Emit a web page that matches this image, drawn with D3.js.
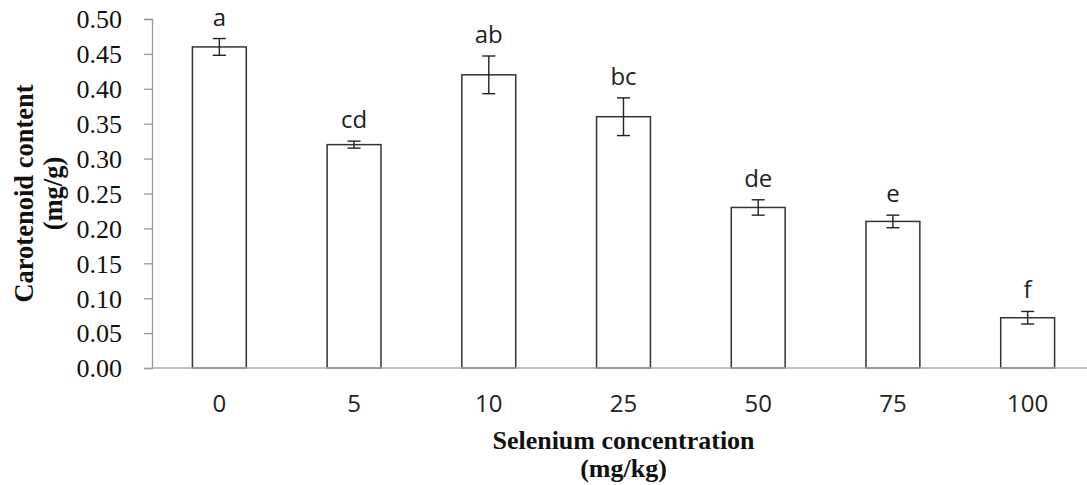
<!DOCTYPE html>
<html>
<head>
<meta charset="utf-8">
<script src="https://cdn.jsdelivr.net/npm/d3@7"></script>
<style>
  body { margin: 0; background: #fff; }
  svg { display: block; }
</style>
</head>
<body>
<svg id="graph"></svg>
<script>
// Données
const concentrations = ["0", "5", "10", "25", "50", "75", "100"];
const carotenoides = [0.46, 0.32, 0.42, 0.36, 0.23, 0.21, 0.072];
const erreurs = [0.012, 0.005, 0.027, 0.027, 0.011, 0.009, 0.009];
const lettres = ["a", "cd", "ab", "bc", "de", "e", "f"];
const yTicks = [0, 0.05, 0.10, 0.15, 0.20, 0.25, 0.30, 0.35, 0.40, 0.45, 0.50];

const largeur = 1087, hauteur = 485;
const marge = { haut: 19, droite: -8, bas: 117, gauche: 152 };

const svg = d3.select("#graph")
  .attr("width", largeur)
  .attr("height", hauteur);

const x = d3.scaleBand()
  .domain(concentrations)
  .range([marge.gauche, largeur - marge.droite])
  .paddingInner(0.6)
  .paddingOuter(0.3);

const y = d3.scaleLinear()
  .domain([0, 0.5])
  .range([hauteur - marge.bas, marge.haut]);

const serif = "'Liberation Serif', 'Times New Roman', serif";
const sans = "'Open Sans', sans-serif";

// Axe Y
const axeY = svg.append("g")
  .attr("transform", `translate(${marge.gauche},0)`)
  .call(d3.axisLeft(y).tickValues(yTicks).tickFormat(d3.format(".2f")).tickSize(8).tickPadding(22));
axeY.select(".domain").attr("stroke", "#999").attr("stroke-width", 1.3);
axeY.selectAll(".tick line").attr("stroke", "#999").attr("stroke-width", 1.3);
axeY.selectAll("text")
  .attr("font-family", serif)
  .attr("font-size", 26)
  .attr("fill", "#111")
  .attr("dy", "0.34em");

// Barres
svg.selectAll("rect.barre")
  .data(carotenoides)
  .enter().append("rect")
  .attr("class", "barre")
  .attr("x", (d, i) => x(concentrations[i]))
  .attr("y", d => y(d))
  .attr("width", x.bandwidth())
  .attr("height", d => y(0) - y(d))
  .attr("fill", "#fff")
  .attr("stroke", "#333")
  .attr("stroke-width", 1.5);

// Axe X (ligne)
svg.append("line")
  .attr("x1", marge.gauche)
  .attr("x2", largeur)
  .attr("y1", y(0))
  .attr("y2", y(0))
  .attr("stroke", "#aaa")
  .attr("stroke-width", 1.5);

// Barres d'erreur
const centre = i => x(concentrations[i]) + x.bandwidth() / 2;
carotenoides.forEach((v, i) => {
  const g = svg.append("g").attr("stroke", "#222").attr("stroke-width", 1.4);
  g.append("line").attr("x1", centre(i)).attr("x2", centre(i))
    .attr("y1", y(v + erreurs[i])).attr("y2", y(v - erreurs[i]));
  [v + erreurs[i], v - erreurs[i]].forEach(e => {
    g.append("line").attr("x1", centre(i) - 6.5).attr("x2", centre(i) + 6.5)
      .attr("y1", y(e)).attr("y2", y(e));
  });
});

// Lettres de signification
svg.selectAll("text.lettre")
  .data(lettres)
  .enter().append("text")
  .attr("class", "lettre")
  .attr("x", (d, i) => centre(i))
  .attr("y", (d, i) => y(carotenoides[i] + erreurs[i]) - 13)
  .attr("text-anchor", "middle")
  .attr("font-family", sans)
  .attr("font-size", 24)
  .attr("fill", "#222")
  .text(d => d);

// Étiquettes X
svg.selectAll("text.cat")
  .data(concentrations)
  .enter().append("text")
  .attr("class", "cat")
  .attr("x", d => x(d) + x.bandwidth() / 2)
  .attr("y", 412)
  .attr("text-anchor", "middle")
  .attr("font-family", sans)
  .attr("font-size", 24)
  .attr("fill", "#222")
  .text(d => d);

// Titres des axes
const milieuX = (marge.gauche + x.range()[1]) / 2;
const titreX = svg.append("text")
  .attr("text-anchor", "middle")
  .attr("font-family", serif)
  .attr("font-weight", "bold")
  .attr("font-size", 26)
  .attr("fill", "#111");
titreX.append("tspan").attr("x", milieuX).attr("y", 449).text("Selenium concentration");
titreX.append("tspan").attr("x", milieuX).attr("y", 477).text("(mg/kg)");

const cy = (y(0) + y(0.5)) / 2;
const titreY = svg.append("text")
  .attr("transform", `translate(0,${cy}) rotate(-90)`)
  .attr("text-anchor", "middle")
  .attr("font-family", serif)
  .attr("font-weight", "bold")
  .attr("font-size", 26.5)
  .attr("fill", "#111");
titreY.append("tspan").attr("x", 0).attr("y", 33).text("Carotenoid content");
titreY.append("tspan").attr("x", 0).attr("y", 62).text("(mg/g)");
</script>
</body>
</html>
